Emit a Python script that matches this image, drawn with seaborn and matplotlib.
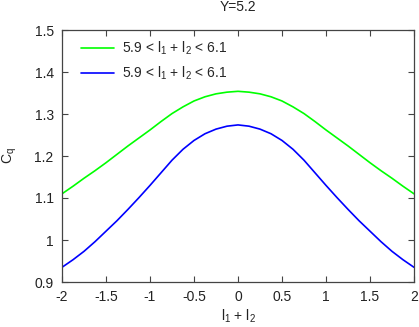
import seaborn as sns
import matplotlib.pyplot as plt
import pandas as pd

# values
l_sum = [-2.0, -1.875, -1.75, -1.625, -1.5, -1.375, -1.25, -1.125, -1.0,
         -0.875, -0.75, -0.625, -0.5, -0.375, -0.25, -0.125, 0.0,
         0.125, 0.25, 0.375, 0.5, 0.625, 0.75, 0.875, 1.0,
         1.125, 1.25, 1.375, 1.5, 1.625, 1.75, 1.875, 2.0]
cq_green = [1.110, 1.128, 1.147, 1.165, 1.184, 1.204, 1.224, 1.243, 1.262,
            1.282, 1.301, 1.317, 1.331, 1.341, 1.348, 1.352, 1.354,
            1.352, 1.348, 1.341, 1.331, 1.317, 1.301, 1.282, 1.262,
            1.243, 1.224, 1.204, 1.184, 1.165, 1.147, 1.128, 1.110]
cq_blue = [0.935, 0.953, 0.973, 0.996, 1.021, 1.046, 1.073, 1.101, 1.130,
           1.160, 1.190, 1.216, 1.237, 1.253, 1.264, 1.271, 1.274,
           1.271, 1.264, 1.253, 1.237, 1.216, 1.190, 1.160, 1.130,
           1.101, 1.073, 1.046, 1.021, 0.996, 0.973, 0.953, 0.935]
labels = ['5.9 < l$\\mathregular{_1}$ + l$\\mathregular{_2}$ < 6.1',
          '5.9 < l$\\mathregular{_1}$ + l$\\mathregular{_2}$ < 6.1']
x_ticks = [-2, -1.5, -1, -0.5, 0, 0.5, 1, 1.5, 2]
y_ticks = [0.9, 1, 1.1, 1.2, 1.3, 1.4, 1.5]

sns.set_theme(style='ticks')
plt.rcParams['font.family'] = ['Liberation Sans', 'DejaVu Sans']
plt.rcParams['mathtext.fontset'] = 'custom'
plt.rcParams['mathtext.rm'] = 'Liberation Sans'
plt.rcParams['mathtext.it'] = 'Liberation Sans:italic'

# trailing space keeps the two identical labels as separate hue levels
df = pd.concat([
    pd.DataFrame({'x': l_sum, 'y': cq_green, 'set': labels[0] + ' '}),
    pd.DataFrame({'x': l_sum, 'y': cq_blue, 'set': labels[1]}),
])

fig = plt.figure(figsize=(4.19, 3.27), dpi=100)
ax = fig.add_axes([62 / 419, 1 - 282 / 327, 352 / 419, 252 / 327])

sns.lineplot(data=df, x='x', y='y', hue='set', palette=['#00ff00', '#0000ff'],
             linewidth=1.2, ax=ax)

ax.set_xlim(-2, 2)
ax.set_ylim(0.9, 1.5)
ax.set_xticks(x_ticks)
ax.set_xticklabels(['-2', '-1.5', '-1', '-0.5', '0', '0.5', '1', '1.5', '2'])
ax.set_yticks(y_ticks)
ax.set_yticklabels(['0.9', '1', '1.1', '1.2', '1.3', '1.4', '1.5'])
ax.tick_params(direction='in', length=4, width=0.8, color='#444444',
               top=True, right=True, labelsize=10, pad=6, labelcolor='#222222')
for s in ax.spines.values():
    s.set_color('#444444')
    s.set_linewidth(0.9)

ax.set_xlabel('l$\\mathregular{_1}$ + l$\\mathregular{_2}$', fontsize=10,
              labelpad=2, color='#222222')
ax.set_ylabel('C$\\mathregular{_q}$', fontsize=10, labelpad=11, color='#222222')
ax.set_title('Y=5.2', fontsize=10, pad=14, color='#222222')

ax.legend(loc='upper left', frameon=False, fontsize=10, handlelength=2.4,
          handletextpad=0.6, labelspacing=0.55, borderaxespad=0.3,
          bbox_to_anchor=(0.025, 1.0), title=None)

fig.savefig('out.png', dpi=100)
